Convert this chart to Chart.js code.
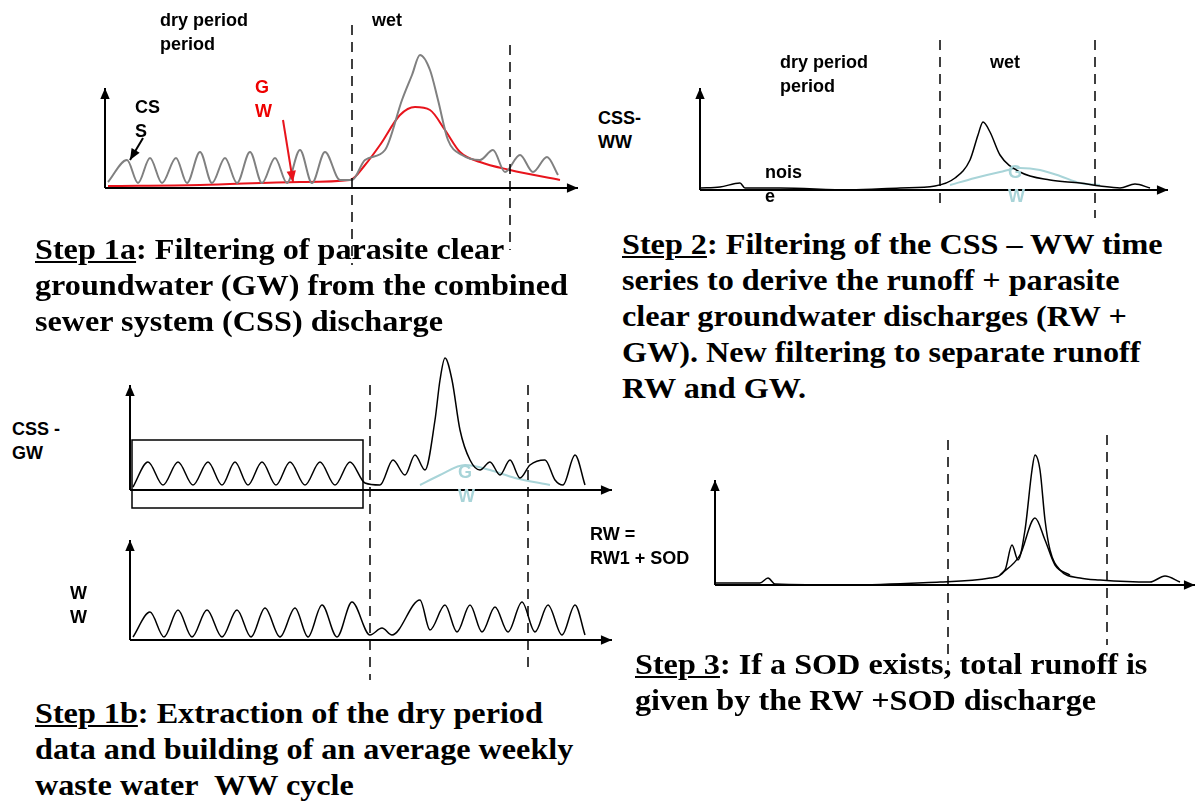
<!DOCTYPE html>
<html><head><meta charset="utf-8">
<script src="https://cdn.jsdelivr.net/npm/chart.js@4.4.0/dist/chart.umd.min.js"></script>
<style>
body{margin:0;background:#fff;width:1198px;height:805px;position:relative;overflow:hidden}
canvas{position:absolute}
.t{position:absolute;font-family:"Liberation Sans",Arial,sans-serif;font-weight:bold;font-size:18px;line-height:24px;color:#000}
.s{position:absolute;font-family:"Liberation Serif","Times New Roman",serif;font-weight:bold;font-size:29px;line-height:36px;color:#000;transform:scaleX(1.11);transform-origin:0 0;white-space:nowrap}
.s u{text-decoration:underline}
</style></head><body>
<canvas id="c1"></canvas><canvas id="c2"></canvas><canvas id="c3"></canvas><canvas id="c4"></canvas><canvas id="c5"></canvas>

<div class="t" style="left:160px;top:8px">dry period<br>period</div>
<div class="t" style="left:372px;top:8px">wet</div>
<div class="t" style="left:135px;top:95px">CS<br>S</div>
<div class="t" style="left:255px;top:75px;color:#e00">G<br>W</div>
<div class="t" style="left:780px;top:50px">dry period<br>period</div>
<div class="t" style="left:990px;top:50px">wet</div>
<div class="t" style="left:598px;top:106px">CSS-<br>WW</div>
<div class="t" style="left:765px;top:160px">nois<br>e</div>
<div class="t" style="left:1008px;top:160px;color:#a8d4d8">G<br>W</div>
<div class="t" style="left:12px;top:417px">CSS -<br>GW</div>
<div class="t" style="left:458px;top:460px;color:#a8d4d8">G<br>W</div>
<div class="t" style="left:70px;top:581px">W<br>W</div>
<div class="t" style="left:590px;top:522px">RW =<br>RW1 + SOD</div>

<div class="s" style="left:35px;top:231px"><u>Step 1a</u>: Filtering of parasite clear<br>groundwater (GW) from the combined<br>sewer system (CSS) discharge</div>
<div class="s" style="left:622px;top:226px"><u>Step 2</u>: Filtering of the CSS – WW time<br>series to derive the runoff + parasite<br>clear groundwater discharges (RW +<br>GW). New filtering to separate runoff<br>RW and GW.</div>
<div class="s" style="left:35px;top:695px"><u>Step 1b</u>: Extraction of the dry period<br>data and building of an average weekly<br>waste water&nbsp; WW cycle</div>
<div class="s" style="left:635px;top:646px"><u>Step 3</u>: If a SOD exists, total runoff is<br>given by the RW +SOD discharge</div>

<script>
// ---- data (t = time units from axis origin, v = discharge units) ----
const cssGray1 = [[3,6],[22,28],[33,5],[45,30],[57,5],[71,30],[82,5],[95,36],[107,5],[120,30],[132,5],[145,36],[157,5],[170,30],[182,5],[195,38],[207,5],[220,36],[235,8],[247,8],[260,28],[280,38],[297,88],[307,113],[315,133],[325,118],[333,88],[343,48],[357,33],[375,28],[388,38],[400,16],[415,33],[428,16],[442,31],[453,13]];
const gwRed1 = [[3,2],[95,3],[195,6],[245,8],[260,23],[275,43],[295,73],[310,81],[325,78],[340,58],[355,36],[375,26],[405,18],[455,8]];
const cssWW2 = [[0,2],[20,3],[40,7],[45,2],[80,2],[150,0],[200,2],[235,4],[255,12],[270,30],[278,55],[283,68],[290,58],[300,35],[320,18],[350,10],[380,7],[400,4],[420,2],[435,6],[450,2]];
const gw2 = [[250,5],[275,12],[300,18],[320,22],[340,20],[360,14],[380,7],[400,5]];
const cssGW3 = [[3,3],[18,28],[33,5],[48,28],[63,5],[78,28],[92,5],[105,28],[118,5],[132,28],[146,5],[160,28],[175,5],[190,28],[205,5],[220,28],[235,7],[250,5],[263,30],[275,15],[285,35],[295,20],[305,70],[310,110],[315,132],[322,110],[330,60],[340,30],[350,20],[360,28],[370,15],[380,30],[390,12],[400,25],[415,30],[425,10],[433,5],[445,35],[455,5]];
const gw3 = [[290,5],[310,15],[335,25],[360,20],[385,12],[420,5]];
const ww4 = [[3,3],[20,28],[34,3],[48,30],[62,3],[77,30],[92,3],[107,30],[121,3],[135,32],[150,3],[165,32],[178,3],[192,35],[207,3],[222,38],[240,5],[252,12],[262,5],[290,40],[300,10],[315,35],[327,8],[340,35],[352,8],[365,33],[378,8],[392,38],[405,8],[418,35],[432,5],[445,35],[455,5]];
const rw5 = [[0,2],[45,2],[53,7],[60,1],[135,0],[225,3],[275,7],[290,15],[297,40],[303,25],[310,55],[317,115],[320,130],[325,115],[330,65],[335,35],[345,15],[365,7],[385,5],[435,3],[450,9],[465,3]];
const rw1_5 = [[285,10],[305,30],[320,67],[330,45],[340,20],[355,10]];

function pts(a){return a.map(p=>({x:p[0],y:p[1]}));}
function arrowHead(ctx,x1,y1,x2,y2,s){const a=Math.atan2(y2-y1,x2-x1);ctx.beginPath();ctx.moveTo(x2,y2);ctx.lineTo(x2-s*Math.cos(a-0.4),y2-s*Math.sin(a-0.4));ctx.lineTo(x2-s*Math.cos(a+0.4),y2-s*Math.sin(a+0.4));ctx.closePath();ctx.fill();}

function panel(id,ox,oy,left,top,w,h,datasets,ex){
  const c=document.getElementById(id);c.width=w;c.height=h;c.style.left=left+'px';c.style.top=top+'px';
  const xmin=left-ox, ymax=oy-top;
  new Chart(c,{type:'line',data:{datasets:datasets.map(d=>({data:pts(d.d),borderColor:d.c,borderWidth:d.w||1.5,pointRadius:0,tension:0.4,cubicInterpolationMode:'monotone',fill:false}))},
   options:{responsive:false,animation:false,devicePixelRatio:1,layout:{padding:0},plugins:{legend:{display:false},tooltip:{enabled:false}},
    scales:{x:{type:'linear',display:false,min:xmin,max:xmin+w},y:{display:false,min:ymax-h,max:ymax}}},
   plugins:[{id:'ax',afterDatasetsDraw(ch){const ctx=ch.ctx,X=ch.scales.x,Y=ch.scales.y;const px=v=>X.getPixelForValue(v),py=v=>Y.getPixelForValue(v);
     ctx.save();ctx.strokeStyle='#000';ctx.fillStyle='#000';ctx.lineWidth=2;
     ctx.beginPath();ctx.moveTo(px(0),py(0));ctx.lineTo(px(ex.xe),py(0));ctx.moveTo(px(0),py(0));ctx.lineTo(px(0),py(ex.ye));ctx.stroke();
     arrowHead(ctx,px(0),py(0),px(ex.xe),py(0),12);arrowHead(ctx,px(0),py(0),px(0),py(ex.ye),12);
     ctx.lineWidth=1.5;ctx.setLineDash([10,7]);
     (ex.dash||[]).forEach(d=>{ctx.beginPath();ctx.moveTo(px(d[0]),py(d[1]));ctx.lineTo(px(d[0]),py(d[2]));ctx.stroke();});
     ctx.setLineDash([]);
     if(ex.box){ctx.lineWidth=1.5;ctx.strokeRect(px(ex.box[0]),py(ex.box[3]),px(ex.box[2])-px(ex.box[0]),py(ex.box[1])-py(ex.box[3]));}
     (ex.arrows||[]).forEach(a=>{ctx.strokeStyle=a[4];ctx.fillStyle=a[4];ctx.lineWidth=2;ctx.beginPath();ctx.moveTo(px(a[0]),py(a[1]));ctx.lineTo(px(a[2]),py(a[3]));ctx.stroke();arrowHead(ctx,px(a[0]),py(a[1]),px(a[2]),py(a[3]),12);});
     ctx.restore();}}]});
}
panel('c1',105,188,95,20,495,255,[{d:cssGray1,c:'#808080',w:2},{d:gwRed1,c:'#e8141c',w:2}],
  {xe:473,ye:100,dash:[[247,163,-77],[405,143,-62]],arrows:[[38,50,25,28,'#000'],[178,68,188,6,'#e8141c']]});
panel('c2',700,190,690,30,490,190,[{d:cssWW2,c:'#000'},{d:gw2,c:'#a8d4d8',w:2}],
  {xe:468,ye:102,dash:[[240,150,-20],[395,150,-28]]});
panel('c3',130,490,120,345,500,340,[{d:cssGW3,c:'#000'},{d:gw3,c:'#a8d4d8',w:2}],
  {xe:482,ye:105,dash:[[240,105,-190],[398,105,-180]],box:[2,-18,233,50]});
panel('c4',130,640,120,530,500,120,[{d:ww4,c:'#000'}],{xe:482,ye:100});
panel('c5',715,585,705,425,493,250,[{d:rw5,c:'#000'},{d:rw1_5,c:'#000'}],
  {xe:480,ye:105,dash:[[233,145,-80],[392,150,-60]]});
</script></body></html>
